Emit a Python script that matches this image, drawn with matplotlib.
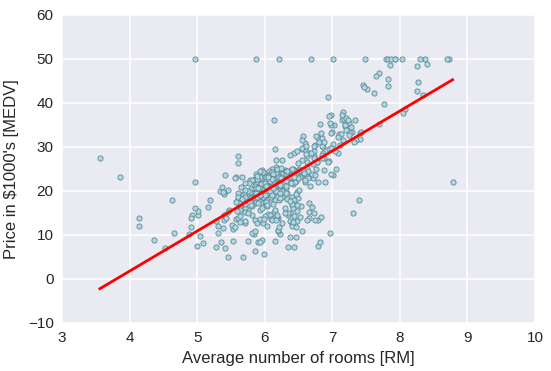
import matplotlib
matplotlib.use('Agg')
import matplotlib.pyplot as plt
import numpy as np

# Boston housing: average rooms (RM) vs median price (MEDV)
rm = [
    6.575, 6.421, 7.185, 6.998, 7.147, 6.430, 6.012, 6.172, 5.631, 6.004,
    6.377, 6.009, 5.889, 5.949, 6.096, 5.834, 5.935, 5.990, 5.456, 5.727,
    5.570, 5.965, 6.142, 5.813, 5.924, 5.599, 5.813, 6.047, 6.495, 6.674,
    5.713, 6.072, 5.950, 5.701, 6.096, 5.933, 5.841, 5.850, 5.966, 6.595,
    7.024, 6.770, 6.169, 6.211, 6.069, 5.682, 5.786, 6.030, 5.399, 5.602,
    5.963, 6.115, 6.511, 5.998, 5.888, 7.249, 6.383, 6.816, 6.145, 5.927,
    5.741, 5.966, 6.456, 6.762, 7.104, 6.290, 5.787, 5.878, 5.594, 5.885,
    6.417, 5.961, 6.065, 6.245, 6.273, 6.286, 6.279, 6.140, 6.232, 5.874,
    6.727, 6.619, 6.302, 6.167, 6.389, 6.630, 6.015, 6.121, 7.007, 7.079,
    6.417, 6.405, 6.442, 6.211, 6.249, 6.625, 6.163, 8.069, 7.820, 7.416,
    6.727, 6.781, 6.405, 6.137, 6.167, 5.851, 5.836, 6.127, 6.474, 6.229,
    6.195, 6.715, 5.913, 6.092, 6.254, 5.928, 6.176, 6.021, 5.872, 5.731,
    5.870, 6.004, 5.961, 5.856, 5.879, 5.986, 5.613, 5.693, 6.431, 5.637,
    6.458, 6.326, 6.372, 5.822, 5.757, 6.335, 5.942, 6.454, 5.857, 6.151,
    6.174, 5.019, 5.403, 5.468, 4.903, 6.130, 5.628, 4.926, 5.186, 5.597,
    6.122, 5.404, 5.012, 5.709, 6.129, 6.152, 5.272, 6.943, 6.066, 6.510,
    6.250, 7.489, 7.802, 8.375, 5.854, 6.101, 7.929, 5.877, 6.319, 6.402,
    5.875, 5.880, 5.572, 6.416, 5.859, 6.546, 6.020, 6.315, 6.860, 6.980,
    7.765, 6.144, 7.155, 6.563, 5.604, 6.153, 7.831, 6.782, 6.556, 7.185,
    6.951, 6.739, 7.178, 6.800, 6.604, 7.875, 7.287, 7.107, 7.274, 6.975,
    7.135, 6.162, 7.610, 7.853, 8.034, 5.891, 6.326, 5.783, 6.064, 5.344,
    5.960, 5.404, 5.807, 6.375, 5.412, 6.182, 5.888, 6.642, 5.951, 6.373,
    6.951, 6.164, 6.879, 6.618, 8.266, 8.725, 8.040, 7.163, 7.686, 6.552,
    5.981, 7.412, 8.337, 8.247, 6.726, 6.086, 6.631, 7.358, 6.481, 6.606,
    6.897, 6.095, 6.358, 6.393, 5.593, 5.605, 6.108, 6.226, 6.433, 6.718,
    6.487, 6.438, 6.957, 8.259, 6.108, 5.876, 7.454, 8.704, 7.333, 6.842,
    7.203, 7.520, 8.398, 7.327, 7.206, 5.560, 7.014, 8.297, 7.470, 5.920,
    5.856, 6.240, 6.538, 7.691, 6.758, 6.854, 7.267, 6.826, 6.482, 6.812,
    7.820, 6.968, 7.645, 7.923, 7.088, 6.453, 6.230, 6.209, 6.315, 6.565,
    6.861, 7.148, 6.630, 6.127, 6.009, 6.678, 6.549, 5.790, 6.345, 7.041,
    6.871, 6.590, 6.495, 6.982, 7.236, 6.616, 7.420, 6.849, 6.635, 5.972,
    4.973, 6.122, 6.023, 6.266, 6.567, 5.705, 5.914, 5.782, 6.382, 6.113,
    6.426, 6.376, 6.041, 5.708, 6.415, 6.431, 6.312, 6.083, 5.868, 6.333,
    6.144, 5.706, 6.031, 6.316, 6.310, 6.037, 5.869, 5.895, 6.059, 5.985,
    5.968, 7.241, 6.540, 6.696, 6.874, 6.014, 5.898, 6.516, 6.635, 6.939,
    6.490, 6.579, 5.884, 6.728, 5.663, 5.936, 6.212, 6.395, 6.127, 6.112,
    6.398, 6.251, 5.362, 5.803, 8.780, 3.561, 4.963, 3.863, 4.970, 6.683,
    7.016, 6.216, 5.875, 4.906, 4.138, 7.313, 6.649, 6.794, 6.380, 6.223,
    6.968, 6.545, 5.536, 5.520, 4.368, 5.277, 4.652, 5.000, 4.880, 5.390,
    5.713, 6.051, 5.036, 6.193, 5.887, 6.471, 6.405, 5.747, 5.453, 5.852,
    5.987, 6.343, 6.404, 5.349, 5.531, 5.683, 4.138, 5.608, 5.617, 6.852,
    5.757, 6.657, 4.628, 5.155, 4.519, 6.434, 6.782, 5.304, 5.957, 6.824,
    6.411, 6.006, 5.648, 6.103, 5.565, 5.896, 5.837, 6.202, 6.193, 6.380,
    6.348, 6.833, 6.425, 6.436, 6.208, 6.629, 6.461, 6.152, 5.935, 5.627,
    5.818, 6.406, 6.219, 6.485, 5.854, 6.459, 6.341, 6.251, 6.185, 6.417,
    6.749, 6.655, 6.297, 7.393, 6.728, 6.525, 5.976, 5.936, 6.301, 6.081,
    6.701, 6.376, 6.317, 6.513, 6.209, 5.759, 5.952, 6.003, 5.926, 5.713,
    6.167, 6.229, 6.437, 6.980, 5.427, 6.162, 6.484, 5.304, 6.185, 6.229,
    6.242, 6.750, 7.061, 5.762, 5.871, 6.312, 6.114, 5.905, 5.454, 5.414,
    5.093, 5.983, 5.983, 5.707, 5.926, 5.670, 5.390, 5.794, 6.019, 5.569,
    6.027, 6.593, 6.120, 6.976, 6.794, 6.030,
]

medv = [
    24.0, 21.6, 34.7, 33.4, 36.2, 28.7, 22.9, 27.1, 16.5, 18.9,
    15.0, 18.9, 21.7, 20.4, 18.2, 19.9, 23.1, 17.5, 20.2, 18.2,
    13.6, 19.6, 15.2, 14.5, 15.6, 13.9, 16.6, 14.8, 18.4, 21.0,
    12.7, 14.5, 13.2, 13.1, 13.5, 18.9, 20.0, 21.0, 24.7, 30.8,
    34.9, 26.6, 25.3, 24.7, 21.2, 19.3, 20.0, 16.6, 14.4, 19.4,
    19.7, 20.5, 25.0, 23.4, 18.9, 35.4, 24.7, 31.6, 23.3, 19.6,
    18.7, 16.0, 22.2, 25.0, 33.0, 23.5, 19.4, 22.0, 17.4, 20.9,
    24.2, 21.7, 22.8, 23.4, 24.1, 21.4, 20.0, 20.8, 21.2, 20.3,
    28.0, 23.9, 24.8, 22.9, 23.9, 26.6, 22.5, 22.2, 23.6, 28.7,
    22.6, 22.0, 22.9, 25.0, 20.6, 28.4, 21.4, 38.7, 43.8, 33.2,
    27.5, 26.5, 18.6, 19.3, 20.1, 19.5, 19.5, 20.4, 19.8, 19.4,
    21.7, 22.8, 18.8, 18.7, 18.5, 18.3, 21.2, 19.2, 20.4, 19.3,
    22.0, 20.3, 20.5, 17.3, 18.8, 21.4, 15.7, 16.2, 18.0, 14.3,
    19.2, 19.6, 23.0, 18.4, 15.6, 18.1, 17.4, 17.1, 13.3, 17.8,
    14.0, 14.4, 13.4, 15.6, 11.8, 13.8, 15.6, 14.6, 17.8, 15.4,
    21.5, 19.6, 15.3, 19.4, 17.0, 15.6, 13.1, 41.3, 24.3, 23.3,
    27.0, 50.0, 50.0, 50.0, 22.7, 25.0, 50.0, 23.8, 23.8, 22.3,
    17.4, 19.1, 23.1, 23.6, 22.6, 29.4, 23.2, 24.6, 29.9, 37.2,
    39.8, 36.2, 37.9, 32.5, 26.4, 29.6, 50.0, 32.0, 29.8, 34.9,
    37.0, 30.5, 36.4, 31.1, 29.1, 50.0, 33.3, 30.3, 34.6, 34.9,
    32.9, 24.1, 42.3, 48.5, 50.0, 22.6, 24.4, 22.5, 24.4, 20.0,
    21.7, 19.3, 22.4, 28.1, 23.7, 25.0, 23.3, 28.7, 21.5, 23.0,
    26.7, 21.7, 27.5, 30.1, 44.8, 50.0, 37.6, 31.6, 46.7, 31.5,
    24.3, 31.7, 41.7, 48.3, 29.0, 24.0, 25.1, 31.5, 23.7, 23.3,
    22.0, 20.1, 22.2, 23.7, 17.6, 18.5, 24.3, 20.5, 24.5, 26.2,
    24.4, 24.8, 29.6, 42.8, 21.9, 20.9, 44.0, 50.0, 36.0, 30.1,
    33.8, 43.1, 48.8, 31.0, 36.5, 22.8, 30.7, 50.0, 43.5, 20.7,
    21.1, 25.2, 24.4, 35.2, 32.4, 32.0, 33.2, 33.1, 29.1, 35.1,
    45.4, 35.4, 46.0, 50.0, 32.2, 22.0, 20.1, 23.2, 22.3, 24.8,
    28.5, 37.3, 27.9, 23.9, 21.7, 28.6, 27.1, 20.3, 22.5, 29.0,
    24.8, 22.0, 26.4, 33.1, 36.1, 28.4, 33.4, 28.2, 22.8, 20.3,
    16.1, 22.1, 19.4, 21.6, 23.8, 16.2, 17.8, 19.8, 23.1, 21.0,
    23.8, 23.1, 20.4, 18.5, 25.0, 24.6, 23.0, 22.2, 19.3, 22.6,
    19.8, 17.1, 19.4, 22.2, 20.7, 21.1, 19.5, 18.5, 20.6, 19.0,
    18.7, 32.7, 16.5, 23.9, 31.2, 17.5, 17.2, 23.1, 24.5, 26.6,
    22.9, 24.1, 18.6, 30.1, 18.2, 20.6, 17.8, 21.7, 22.7, 22.6,
    25.0, 19.9, 20.8, 16.8, 21.9, 27.5, 21.9, 23.1, 50.0, 50.0,
    50.0, 50.0, 50.0, 13.8, 13.8, 15.0, 13.9, 13.3, 13.1, 10.2,
    10.4, 10.9, 11.3, 12.3, 8.8, 7.2, 10.5, 7.4, 10.2, 11.5,
    15.1, 23.2, 9.7, 13.8, 12.7, 13.1, 12.5, 8.5, 5.0, 6.3,
    5.6, 7.2, 12.1, 8.3, 8.5, 5.0, 11.9, 27.9, 17.2, 27.5,
    15.0, 17.2, 17.9, 16.3, 7.0, 7.2, 7.5, 10.4, 8.8, 8.4,
    16.7, 14.2, 20.8, 13.4, 11.7, 8.3, 10.2, 10.9, 11.0, 9.5,
    14.5, 14.1, 16.1, 14.3, 11.7, 13.4, 9.6, 8.7, 8.4, 12.8,
    10.5, 17.1, 18.4, 15.4, 10.8, 11.8, 14.9, 12.6, 14.1, 13.0,
    13.4, 15.2, 16.1, 17.8, 14.9, 14.1, 12.7, 13.5, 14.9, 20.0,
    16.4, 17.7, 19.5, 20.2, 21.4, 19.9, 19.0, 19.1, 19.1, 20.1,
    19.9, 19.6, 23.2, 29.8, 13.8, 13.3, 16.7, 12.0, 14.6, 21.4,
    23.0, 23.7, 25.0, 21.8, 20.6, 21.2, 19.1, 20.6, 15.2, 7.0,
    8.1, 13.6, 20.1, 21.8, 24.5, 23.1, 19.7, 18.3, 21.2, 17.5,
    16.8, 22.4, 20.6, 23.9, 22.0, 11.9,
]

x_ticks = [3, 4, 5, 6, 7, 8, 9, 10]
y_ticks = [-10, 0, 10, 20, 30, 40, 50, 60]

X = np.array(rm)
y = np.array(medv)

# least squares fit, like LinearRegression
slope, intercept = np.polyfit(X, y, 1)
xs = np.sort(X)

plt.rcParams['font.family'] = ['Liberation Sans', 'DejaVu Sans']

fig = plt.figure(figsize=(5.51, 3.71), dpi=100)
ax = fig.add_axes([0.1125, 0.130, 0.8585, 0.830])
ax.set_facecolor('#EAEAF2')
for s in ax.spines.values():
    s.set_visible(False)
ax.grid(True, color='white', linewidth=1.1)
ax.set_axisbelow(True)

ax.scatter(X, y, c='lightblue', s=14, edgecolors='#5f8791', linewidths=0.6, zorder=2)
ax.plot(xs, slope * xs + intercept, color='red', linewidth=2, zorder=3)

ax.set_xlim(3, 10)
ax.set_ylim(-10, 60)
ax.set_xticks(x_ticks)
ax.set_yticks(y_ticks)
ax.tick_params(length=0, pad=6, labelsize=11, colors='#262626')
ax.set_xlabel('Average number of rooms [RM]', fontsize=12, color='#262626', labelpad=4)
ax.set_ylabel("Price in $1000's [MEDV]", fontsize=12, color='#262626', labelpad=6)

fig.savefig('out.png', dpi=100)
